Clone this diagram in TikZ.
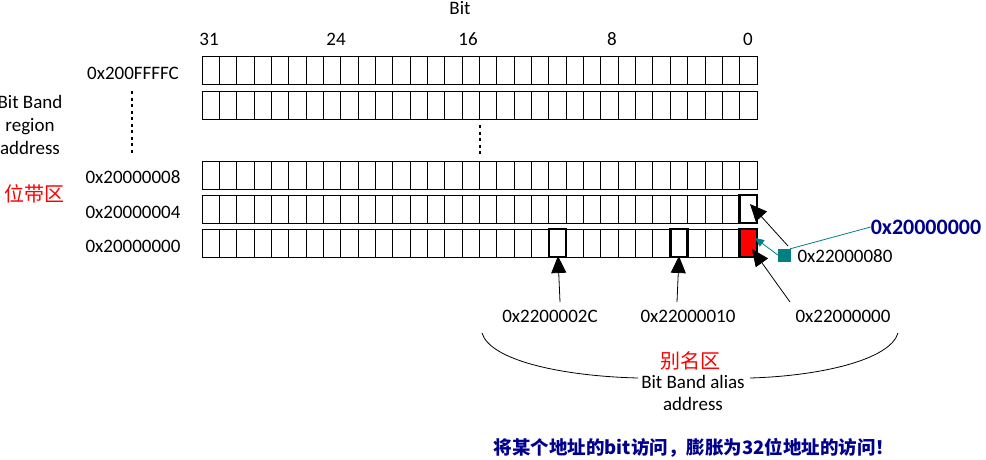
\documentclass[tikz,border=0pt]{standalone}
\usepackage{fontspec}
\setmainfont{Carlito}
\newfontfamily\cjk{Noto Sans CJK SC}
\usetikzlibrary{arrows.meta}
\definecolor{tealc}{RGB}{0,128,128}
\definecolor{navyc}{RGB}{0,0,140}
\begin{document}
\begin{tikzpicture}[x=1pt,y=-1pt,
  lbl/.style={font=\fontsize{19}{21}\selectfont,inner sep=0},
  hl/.style={line width=2.5pt},
  arr/.style={-{Triangle[length=17pt,width=15pt]},line width=0.8pt},
  dots/.style={line width=2.5pt,dash pattern=on 3pt off 3.5pt}]
\useasboundingbox (0,0) rectangle (986,459);
\def\cw{17.34375}
\foreach \t in {56,91,161,195,229}{
  \draw[line width=0.9pt] (202,\t) rectangle (757,\t+28);
  \foreach \i in {1,...,31} \draw[line width=0.9pt] (202+\i*\cw,\t) -- (202+\i*\cw,\t+28);
}
\node[lbl] (bit) at (460,8) {Bit};
\foreach \x/\n in {209/31,336/24,468/16,612/8,748/0} \node[lbl] at (\x,39) {\n};
\node[lbl] (a1) at (133,73) {0x200FFFFC};
\node[lbl] (a2) at (133,177) {0x20000008};
\node[lbl] (a3) at (133,212) {0x20000004};
\node[lbl] (a4) at (133,246) {0x20000000};
\node[lbl,align=center,font=\fontsize{19}{23}\selectfont] (bb) at (30,125) {Bit Band\\region\\address};
\node[lbl,red,font=\cjk\fontsize{20}{22}\selectfont] (wd) at (35,194) {位带区};
\draw[dots] (132,91) -- (132,156);
\draw[dots] (480,125) -- (480,156);
\node[draw,hl,minimum width=\cw,minimum height=28,inner sep=0] (c4) at (757-\cw/2,209) {};
\node[draw,hl,fill=red,minimum width=\cw,minimum height=28,inner sep=0] (c0) at (757-\cw/2,243) {};
\node[draw,hl,minimum width=\cw,minimum height=28,inner sep=0] (c11) at (757-11.5*\cw,243) {};
\node[draw,hl,minimum width=\cw,minimum height=28,inner sep=0] (c4b) at (757-4.5*\cw,243) {};
\node[lbl] (l11) at (550,316) {0x2200002C};
\node[lbl] (l4) at (688,316) {0x22000010};
\node[lbl] (l0) at (843,316) {0x22000000};
\node[lbl] (l80) at (845,256) {0x22000080};
\node[draw=tealc,fill=tealc,minimum size=12pt,inner sep=0] (sq) at (784,255) {};
\node[lbl,navyc,font=\bfseries\fontsize{22}{24}\selectfont] (big) at (926,227) {0x20000000};
\draw[arr] (560,302) -- (558,256);
\draw[arr] (677,302) -- (679,256);
\draw[arr] (790,302) -- (752,249);
\draw[arr] (788,246) -- (750,204);
\draw[tealc,line width=0.8pt,-{Triangle[length=9pt,width=8pt]}] (sq.west) -- (755,238);
\draw[tealc,line width=0.8pt] (sq.north east) -- (big.west);
\node[lbl,red,font=\cjk\fontsize{20}{22}\selectfont] (bm) at (690,361) {别名区};
\node[lbl,align=center,font=\fontsize{19}{22}\selectfont] (ba) at (693,393) {Bit Band alias\\address};
\draw[line width=0.8pt] (482,333) .. controls (490,360) and (560,376) .. (638,378);
\draw[line width=0.8pt] (898,333) .. controls (890,360) and (820,376) .. (750,378);
\node[lbl,navyc,font=\cjk\bfseries\fontsize{18.5}{20}\selectfont] (note) at (694,448) {将某个地址的bit访问，膨胀为32位地址的访问！};
\end{tikzpicture}
\end{document}
